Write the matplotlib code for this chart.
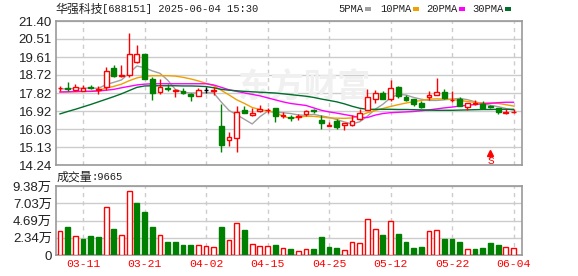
import matplotlib
matplotlib.use("Agg")
import matplotlib.pyplot as plt
from matplotlib.patches import Rectangle
import numpy as np

# trading days shown on the chart
dates = [
    "03-06", "03-07", "03-10", "03-11", "03-12", "03-13", "03-14", "03-17", "03-18", "03-19",
    "03-20", "03-21", "03-24", "03-25", "03-26", "03-27", "03-28", "03-31", "04-01", "04-02",
    "04-03", "04-07", "04-08", "04-09", "04-10", "04-11", "04-14", "04-15", "04-16", "04-17",
    "04-18", "04-21", "04-22", "04-23", "04-24", "04-25", "04-28", "04-29", "04-30", "05-06",
    "05-07", "05-08", "05-09", "05-12", "05-13", "05-14", "05-15", "05-16", "05-19", "05-20",
    "05-21", "05-22", "05-23", "05-26", "05-27", "05-28", "05-29", "05-30", "06-03", "06-04",
]

opens = [
    18.06, 18.05, 17.99, 17.94, 18.12, 17.98, 18.13, 19.05, 18.68, 18.70,
    19.38, 19.76, 18.52, 17.87, 18.07, 17.93, 17.92, 17.78, 17.69, 17.99,
    17.93, 16.19, 15.46, 15.56, 16.98, 16.71, 16.93, 16.97, 17.07, 16.69,
    16.63, 16.63, 16.77, 16.95, 16.49, 16.20, 16.42, 16.25, 16.22, 16.52,
    16.98, 17.51, 17.84, 17.51, 18.11, 17.61, 17.51, 17.34, 17.63, 17.71,
    17.87, 17.46, 17.51, 17.11, 17.29, 17.29, 17.19, 17.07, 16.84, 16.87,
]
highs = [
    18.17, 18.37, 18.25, 18.20, 18.24, 18.17, 19.10, 19.21, 19.21, 20.82,
    20.21, 19.78, 18.63, 18.50, 18.27, 18.04, 18.09, 17.80, 18.08, 18.13,
    18.13, 17.28, 15.88, 17.15, 17.18, 17.05, 17.22, 17.08, 17.07, 16.88,
    16.71, 16.77, 16.95, 17.03, 16.74, 16.39, 16.52, 16.32, 16.74, 17.00,
    18.02, 17.97, 17.94, 18.47, 18.19, 17.74, 17.54, 17.44, 17.94, 18.57,
    18.02, 17.94, 17.61, 17.34, 17.48, 17.43, 17.23, 17.09, 17.00, 17.00,
]
lows = [
    17.93, 17.92, 17.91, 17.91, 18.02, 17.78, 17.97, 18.60, 18.60, 18.60,
    19.33, 18.50, 17.47, 17.75, 17.94, 17.61, 17.78, 17.40, 17.65, 17.84,
    17.73, 14.87, 15.17, 14.87, 16.81, 16.68, 16.90, 16.85, 16.40, 16.58,
    16.42, 16.50, 16.68, 16.83, 16.04, 16.16, 16.04, 15.99, 16.19, 16.50,
    16.95, 17.31, 17.51, 17.40, 17.56, 17.40, 17.15, 17.08, 17.48, 17.71,
    17.54, 17.35, 17.19, 16.98, 17.23, 17.06, 17.06, 16.79, 16.79, 16.84,
]
closes = [
    18.07, 18.00, 18.12, 18.08, 18.07, 18.00, 18.90, 18.67, 18.71, 19.76,
    19.76, 18.52, 17.84, 18.13, 18.03, 17.95, 17.81, 17.65, 17.97, 17.99,
    17.95, 15.23, 15.63, 16.88, 16.85, 16.83, 17.02, 16.99, 16.67, 16.71,
    16.60, 16.66, 16.92, 16.92, 16.31, 16.22, 16.11, 16.32, 16.45, 16.85,
    17.61, 17.84, 17.54, 18.06, 17.68, 17.46, 17.26, 17.11, 17.73, 17.87,
    17.58, 17.48, 17.19, 17.31, 17.34, 17.09, 17.11, 16.86, 16.86, 16.89,
]

# volume in 万 (10k shares); 1 = up day (red), 0 = down day (green)
volumes = [
    3.23, 3.78, 2.64, 2.14, 2.55, 2.41, 6.46, 3.50, 2.78, 8.65,
    7.05, 5.83, 3.78, 2.78, 1.73, 1.73, 1.32, 1.32, 1.41, 1.27,
    1.14, 3.78, 2.09, 4.33, 3.37, 1.55, 1.27, 1.27, 1.32, 1.00,
    0.77, 0.59, 0.87, 0.77, 2.41, 1.05, 0.91, 0.73, 1.73, 1.60,
    4.96, 3.60, 2.69, 4.60, 2.83, 1.78, 0.91, 1.05, 3.32, 3.46,
    2.14, 2.14, 1.73, 0.87, 0.77, 0.91, 1.60, 1.32, 1.14, 0.97,
]
vol_up = [
    1, 0, 1, 0, 0, 0, 1, 0, 1, 1,
    0, 0, 0, 1, 0, 0, 0, 0, 1, 1,
    1, 0, 1, 1, 0, 1, 1, 1, 0, 1,
    0, 1, 1, 0, 0, 0, 0, 1, 1, 1,
    1, 1, 0, 1, 0, 0, 0, 0, 1, 1,
    0, 0, 0, 1, 0, 0, 0, 0, 1, 1,
]

ma5 = [
    18.02, 18.03, 18.05, 18.06, 18.07, 18.05, 18.24, 18.35, 18.47, 18.81,
    19.16, 19.08, 18.92, 18.80, 18.46, 18.00, 17.86, 17.82, 17.82, 17.83,
    17.82, 17.36, 16.95, 16.74, 16.51, 16.28, 16.64, 16.91, 16.87, 16.84,
    16.80, 16.73, 16.71, 16.76, 16.68, 16.61, 16.50, 16.38, 16.28, 16.39,
    16.67, 17.01, 17.26, 17.58, 17.75, 17.72, 17.60, 17.51, 17.45, 17.45,
    17.48, 17.52, 17.55, 17.49, 17.38, 17.28, 17.21, 17.14, 17.05, 16.96,
]
ma10 = [
    17.87, 17.88, 17.89, 17.90, 17.91, 17.96, 18.06, 18.15, 18.26, 18.43,
    18.57, 18.65, 18.68, 18.68, 18.68, 18.66, 18.60, 18.52, 18.42, 18.30,
    18.18, 17.95, 17.72, 17.48, 17.30, 17.10, 17.00, 16.93, 16.86, 16.66,
    16.56, 16.62, 16.66, 16.66, 16.62, 16.58, 16.57, 16.56, 16.58, 16.70,
    16.84, 16.95, 17.05, 17.15, 17.24, 17.32, 17.39, 17.45, 17.51, 17.53,
    17.52, 17.49, 17.45, 17.40, 17.35, 17.33, 17.32, 17.30, 17.24, 17.17,
]
ma20 = [
    17.87, 17.88, 17.89, 17.90, 17.90, 17.92, 17.96, 18.00, 18.08, 18.15,
    18.22, 18.26, 18.28, 18.28, 18.28, 18.28, 18.28, 18.28, 18.28, 18.28,
    18.22, 18.10, 17.98, 17.90, 17.82, 17.75, 17.68, 17.58, 17.48, 17.38,
    17.30, 17.25, 17.20, 17.08, 16.96, 16.88, 16.82, 16.75, 16.68, 16.60,
    16.60, 16.72, 16.80, 16.84, 16.86, 16.88, 16.90, 16.94, 16.98, 17.03,
    17.08, 17.12, 17.17, 17.21, 17.25, 17.28, 17.31, 17.34, 17.36, 17.36,
]
ma30 = [
    16.78, 16.90, 17.01, 17.13, 17.25, 17.38, 17.51, 17.64, 17.78, 17.94,
    18.10, 18.17, 18.18, 18.18, 18.18, 18.18, 18.17, 18.17, 18.16, 18.14,
    18.08, 18.00, 17.96, 17.93, 17.90, 17.88, 17.86, 17.84, 17.82, 17.78,
    17.74, 17.70, 17.66, 17.60, 17.52, 17.45, 17.38, 17.28, 17.16, 17.06,
    17.01, 17.01, 17.01, 17.01, 17.00, 17.00, 16.99, 16.98, 16.97, 16.96,
    16.96, 16.96, 16.97, 16.98, 16.99, 17.00, 17.00, 17.01, 17.01, 17.01,
]

price_ticks = [14.24, 15.13, 16.03, 16.92, 17.82, 18.72, 19.61, 20.51, 21.40]
vol_ticks = [0, 2.34, 4.69, 7.03, 9.38]
vol_tick_labels = ["0", "2.34万", "4.69万", "7.03万", "9.38万"]
label_idx = [3, 11, 19, 27, 35, 43, 51, 59]

RED = "#ff0000"
GREEN = "#008000"
GRID = "#cccccc"
FRAME = "#999999"
MA_COLORS = ["#a0a0a0", "#f0a000", "#ff00ff", "#006f2c"]
CJK = "Noto Sans CJK SC"
MONO = "Liberation Mono"
SANS = "Liberation Sans"

W, H = 578, 276
fig = plt.figure(figsize=(W / 100, H / 100), dpi=100)
ax = fig.add_axes([56 / W, 1 - 165 / H, 466 / W, 144 / H])
axv = fig.add_axes([56 / W, 1 - 255 / H, 466 / W, 69 / H])

n = len(closes)
x = np.arange(n)
xlim = (-0.52, 60.1)

# watermark
ax.text(237 / W, 1 - 88 / H, "东方财富", transform=fig.transFigure, fontsize=24,
        family=CJK, fontweight="bold", color="#f0f0f0", va="center", ha="left", zorder=0.6)

# candles
for i in range(n):
    o, c = opens[i], closes[i]
    if c > o:
        col, face = RED, "white"
    elif c < o:
        col, face = GREEN, GREEN
    else:
        col, face = "black", "black"
    ax.vlines(i, lows[i], highs[i], color=col, lw=1, zorder=3)
    ax.bar(i, max(abs(c - o), 0.004), bottom=min(o, c), width=0.62,
           facecolor=face, edgecolor=col, lw=1, zorder=4)

for vals, colr in zip([ma5, ma10, ma20, ma30], MA_COLORS):
    ax.plot(x, vals, color=colr, lw=1, zorder=2)

# S marker
ax.vlines(56, 14.60, 14.82, color=RED, lw=1, zorder=5)
ax.plot(56, 14.84, marker="^", ms=4, color=RED, zorder=5)
ax.text(56, 14.42, "S", color=RED, ha="center", va="center", fontsize=8, family=MONO, zorder=5)

ax.set_xlim(*xlim)
ax.set_ylim(price_ticks[0], price_ticks[-1])
ax.set_yticks(price_ticks)
ax.set_yticklabels([f"{t:.2f}" for t in price_ticks], family=SANS, fontsize=9.5, color="#222222")
ax.set_xticks(label_idx)
ax.set_xticklabels([])

# volume
for i in range(n):
    if vol_up[i]:
        axv.bar(i, volumes[i], width=0.62, facecolor="white", edgecolor=RED, lw=1, zorder=3)
    else:
        axv.bar(i, volumes[i], width=0.62, facecolor=GREEN, edgecolor=GREEN, lw=1, zorder=3)

axv.set_xlim(*xlim)
axv.set_ylim(0, vol_ticks[-1])
axv.set_yticks(vol_ticks)
axv.set_yticklabels(vol_tick_labels, family=[SANS, CJK], fontsize=9.5, color="#222222")
axv.set_xticks(label_idx)
axv.set_xticklabels([dates[i] for i in label_idx], family=MONO, fontsize=8.2, color=RED)

for a in (ax, axv):
    a.set_axisbelow(True)
    a.grid(axis="y", color=GRID, lw=1, linestyle="-")
    a.grid(axis="x", color=GRID, lw=1, linestyle=(0, (3, 3)))
    a.tick_params(length=0, pad=3)
    for s in a.spines.values():
        s.set_color(FRAME)
        s.set_linewidth(1.2)

# header texts
fig.text(55 / W, 1 - 9 / H, "华强科技", family=CJK, fontsize=8.6, color="#222222", va="center")
fig.text(102 / W, 1 - 9 / H, "[688151] 2025-06-04 15:30", family=MONO, fontsize=7.6,
         color="#222222", va="center")

legend_items = [("5PMA", 338), ("10PMA", 380), ("20PMA", 426), ("30PMA", 472)]
for (name, px), colr in zip(legend_items, MA_COLORS):
    fig.text(px / W, 1 - 9 / H, name, family=MONO, fontsize=7.6, color="#222222", va="center")
    sx = px + len(name) * 6 + 3
    fig.patches.append(Rectangle((sx / W, 1 - 11 / H), 6 / W, 4 / H,
                                 transform=fig.transFigure, facecolor=colr, edgecolor="none"))

fig.text(57 / W, 1 - 177 / H, "成交量", family=CJK, fontsize=8.6, color="#222222", va="center")
fig.text(92 / W, 1 - 177 / H, ":9665", family=MONO, fontsize=7.6, color="#222222", va="center")

fig.savefig("out.png", dpi=100)
